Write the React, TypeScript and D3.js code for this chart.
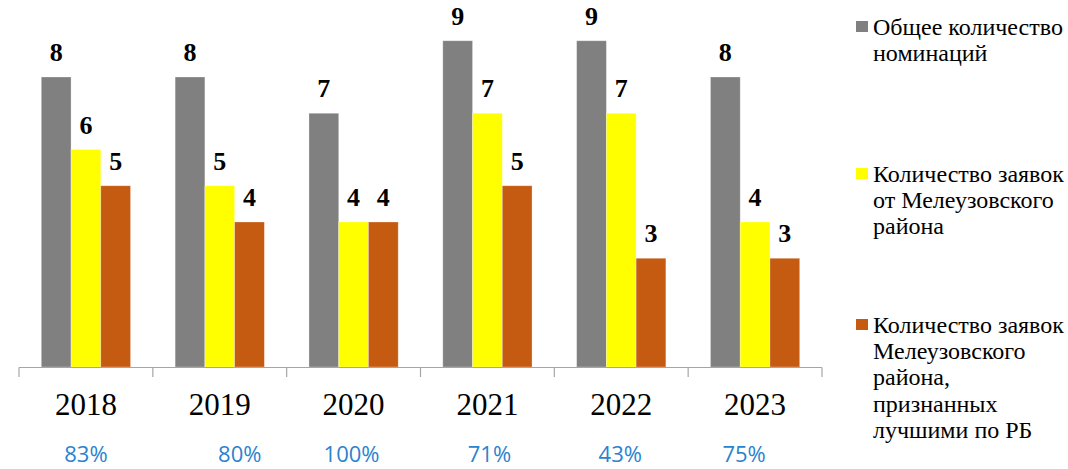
import React from "react";
import * as d3 from "d3";

const years = ["2018", "2019", "2020", "2021", "2022", "2023"];
const totalNominations = [8, 8, 7, 9, 9, 8];
const districtApplications = [6, 5, 4, 7, 7, 4];
const bestInRB = [5, 4, 4, 5, 3, 3];
const percentLabels = ["83%", "80%", "100%", "71%", "43%", "75%"];

const seriesNames = [
  ["Общее количество", "номинаций"],
  ["Количество заявок", "от Мелеузовского", "района"],
  ["Количество заявок", "Мелеузовского", "района,", "признанных", "лучшими по РБ"],
];

const W = 1068;
const H = 469;
const colors = ["#808080", "#ffff00", "#c55a11"];
const pctNudge = [0, 20, -2, 2, -1, -11];

export default function App() {
  const series = [totalNominations, districtApplications, bestInRB];
  const x = d3.scaleBand<string>().domain(years).range([19, 822]).paddingInner(0).paddingOuter(0);
  const xs = d3
    .scaleBand<number>()
    .domain([0, 1, 2])
    .range([0, x.bandwidth()])
    .paddingInner(0)
    .paddingOuter(0.75);
  const y = d3.scaleLinear().domain([0, 10]).range([367, 4.5]);
  const serifStyle = { fontFamily: "'Liberation Serif', 'DejaVu Serif', 'Times New Roman', serif" };
  const sansStyle = { fontFamily: "'Open Sans', 'Noto Sans', sans-serif" };
  const legendTop = [35, 182, 333];
  const lineH = 26.2;

  return (
    <svg
      width={W}
      height={H}
      style={{ position: "absolute", left: 0, top: 0, background: "#fff" }}
    >
      {years.map((yr, i) => (
        <g key={yr}>
          {series.map((s, k) => {
            const bx = (x(yr) as number) + (xs(k) as number);
            const bw = xs.bandwidth();
            return (
              <g key={k}>
                <rect
                  x={bx}
                  y={y(s[i])}
                  width={bw}
                  height={y(0) - y(s[i])}
                  fill={colors[k]}
                  stroke="rgba(255,255,255,0.35)"
                  strokeWidth={0.8}
                />
                <text
                  x={bx + bw / 2}
                  y={y(s[i]) - 16}
                  textAnchor="middle"
                  style={{ ...serifStyle, fontWeight: "bold", fontSize: 26 }}
                  fill="#000"
                >
                  {s[i]}
                </text>
              </g>
            );
          })}
          <text
            x={(x(yr) as number) + x.bandwidth() / 2}
            y={415}
            textAnchor="middle"
            style={{ ...serifStyle, fontSize: 31 }}
            fill="#000"
          >
            {yr}
          </text>
          <text
            x={(x(yr) as number) + x.bandwidth() / 2 + pctNudge[i]}
            y={462}
            textAnchor="middle"
            style={{ ...sansStyle, fontSize: 22 }}
            fill="#2a83cf"
          >
            {percentLabels[i]}
          </text>
        </g>
      ))}
      <line x1={19} x2={822} y1={367.5} y2={367.5} stroke="#a6a6a6" strokeWidth={1.2} />
      {[...years.map((yr) => x(yr) as number), 822].map((tx, i) => (
        <line key={i} x1={tx} x2={tx} y1={367.5} y2={377} stroke="#a6a6a6" strokeWidth={1.2} />
      ))}
      {seriesNames.map((lines, k) => (
        <g key={k}>
          <rect x={856} y={legendTop[k] - 14} width={12} height={11} fill={colors[k]} />
          {lines.map((ln, j) => (
            <text
              key={j}
              x={873}
              y={legendTop[k] + j * lineH}
              style={{ ...serifStyle, fontSize: 24 }}
              fill="#000"
            >
              {ln}
            </text>
          ))}
        </g>
      ))}
    </svg>
  );
}
